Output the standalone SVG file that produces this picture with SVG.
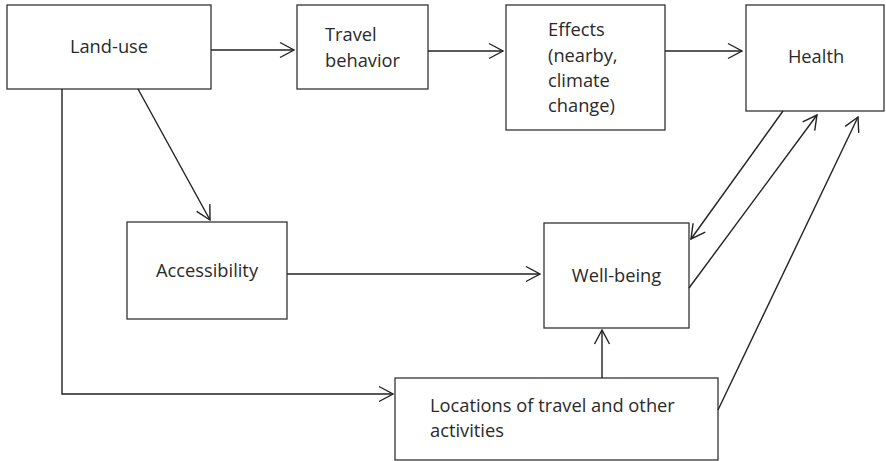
<svg xmlns="http://www.w3.org/2000/svg" width="886" height="461" viewBox="0 0 886 461">
<style>
.box{fill:#fff;stroke:#333;stroke-width:1.3}
.t{font-family:"Open Sans","Liberation Sans",sans-serif;font-size:18.3px;fill:#2a2a2a}
.c{fill:none;stroke:#222;stroke-width:1.4}
</style>
<defs>
<marker id="ah" viewBox="0 0 16 18" refX="15" refY="9" markerWidth="16" markerHeight="18" markerUnits="userSpaceOnUse" orient="auto">
<path d="M1,1.5 L15,9 L1,16.5" fill="none" stroke="#222" stroke-width="1.4"/>
</marker>
</defs>
<rect width="886" height="461" fill="#fff"/>
<g id="land-use"><rect class="box" x="7" y="5" width="204" height="84"/><text class="t" x="109" y="53" text-anchor="middle">Land-use</text></g>
<g id="travel-behavior"><rect class="box" x="297" y="5" width="131" height="84"/><text class="t" x="325" y="41">Travel</text><text class="t" x="325" y="67">behavior</text></g>
<g id="effects"><rect class="box" x="506" y="5" width="159" height="125"/><text class="t" x="548" y="36">Effects</text><text class="t" x="548" y="62">(nearby,</text><text class="t" x="548" y="87">climate</text><text class="t" x="548" y="112">change)</text></g>
<g id="health"><rect class="box" x="746" y="5" width="138" height="106"/><text class="t" x="816" y="63" text-anchor="middle">Health</text></g>
<g id="accessibility"><rect class="box" x="127" y="222" width="160" height="97"/><text class="t" x="207" y="277" text-anchor="middle">Accessibility</text></g>
<g id="well-being"><rect class="box" x="544" y="223" width="145" height="105"/><text class="t" x="616.5" y="282" text-anchor="middle">Well-being</text></g>
<g id="locations"><rect class="box" x="395" y="378" width="323" height="82"/><text class="t" x="430" y="412">Locations of travel and other</text><text class="t" x="430" y="437">activities</text></g>
<g id="connectors">
<path class="c" d="M211,50 L294,50" marker-end="url(#ah)"/>
<path class="c" d="M428,51 L503,51" marker-end="url(#ah)"/>
<path class="c" d="M665,51 L742,51" marker-end="url(#ah)"/>
<path class="c" d="M138,89 L210,220" marker-end="url(#ah)"/>
<path class="c" d="M62,89 L62,394 L393,394" marker-end="url(#ah)"/>
<path class="c" d="M287,274 L540,274" marker-end="url(#ah)"/>
<path class="c" d="M602,378 L602,330" marker-end="url(#ah)"/>
<path class="c" d="M783,111 L691,239" marker-end="url(#ah)"/>
<path class="c" d="M689,288 L817,115" marker-end="url(#ah)"/>
<path class="c" d="M718,410 L858,117" marker-end="url(#ah)"/>
</g>
</svg>
